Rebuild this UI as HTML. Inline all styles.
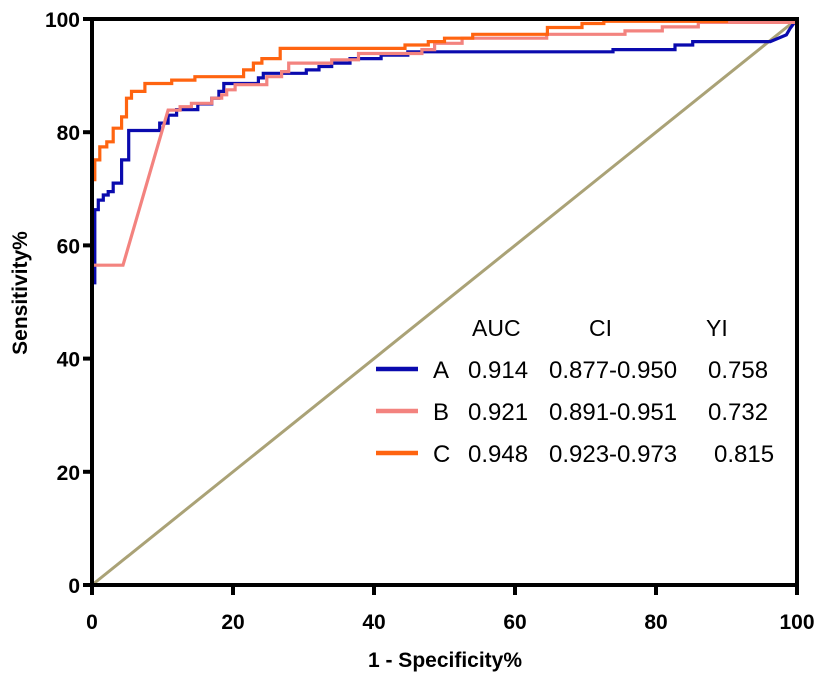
<!DOCTYPE html>
<html><head><meta charset="utf-8"><style>
html,body{margin:0;padding:0;background:#fff;}
svg{display:block;font-family:"Liberation Sans",Arial,sans-serif;}
</style></head><body>
<svg id="chart" width="827" height="677"></svg>
<script>
const xTicks=[0,20,40,60,80,100];
const yTicks=[0,20,40,60,80,100];
const seriesNames=["A","B","C"];
const aucValues=["0.914","0.921","0.948"];
const ciValues=["0.877-0.950","0.891-0.951","0.923-0.973"];
const yiValues=["0.758","0.732","0.815"];
const fprA=[0,0.4,0.4,0.9,0.9,1.6,1.6,2.3,2.3,3.0,3.0,4.2,4.2,5.2,5.2,9.6,9.6,10.8,10.8,12,12,15,15,17,17,18,18,18.7,18.7,23.6,23.6,24.3,24.3,30.4,30.4,32.2,32.2,34,34,36.6,36.6,41,41,44.8,44.8,73.9,73.9,82.7,82.7,85.2,85.2,96.2,98.5,99,100];
const tprA=[53.4,53.4,66.3,66.3,68,68,68.9,68.9,69.5,69.5,71,71,75.1,75.1,80.3,80.3,81.6,81.6,83.0,83.0,84,84,85,85,86,86,87.2,87.2,88.6,88.6,89.6,89.6,90.4,90.4,91.0,91.0,91.6,91.6,92.2,92.2,93.0,93.0,93.6,93.6,94.2,94.2,94.6,94.6,95.4,95.4,96,96,97.2,98.3,100];
const fprB=[0,0,4.4,10.8,12.5,12.5,14.1,14.1,17,17,18.4,18.4,19.1,19.1,20.3,20.3,24.8,24.8,26.9,26.9,27.9,27.9,34,34,37.8,37.8,46.8,46.8,48.6,48.6,52.5,52.5,64.5,64.5,75.6,75.6,80.9,80.9,86,86,100];
const tprB=[0,56.5,56.5,83.9,83.9,84.5,84.5,85.1,85.1,86,86,86.6,86.6,87.5,87.5,88.4,88.4,89.8,89.8,90.7,90.7,92.2,92.2,92.8,92.8,93.9,93.9,94.6,94.6,95.7,95.7,96.6,96.6,97.3,97.3,97.9,97.9,98.6,98.6,99.4,99.4,100];
const fprC=[0,0,0.4,0.4,1.1,1.1,2.1,2.1,3,3,4.2,4.2,4.9,4.9,5.6,5.6,7.5,7.5,11.3,11.3,14.6,14.6,21.5,21.5,22.9,22.9,24.1,24.1,26.7,26.7,44.4,44.4,47.7,47.7,50,50,54,54,64.6,64.6,69.5,69.5,72.6,72.6,90,90,100];
const tprC=[0,71.6,71.6,75.1,75.1,77.4,77.4,78.3,78.3,80.7,80.7,82.7,82.7,86,86,87.2,87.2,88.6,88.6,89.2,89.2,89.8,89.8,91,91,92.2,92.2,93,93,94.8,94.8,95.4,95.4,96,96,96.6,96.6,97.3,97.3,98.5,98.5,99.2,99.2,99.6,99.6,100,100];
const colors=["#0a0aae","#f3837f","#ff6410"];
const X0=92,X1=797,Y0=585,Y1=19;
function sx(v){return X0+(X1-X0)*v/100;}
function sy(v){return Y0-(Y0-Y1)*v/100;}
const NS="http://www.w3.org/2000/svg";
const svg=document.getElementById('chart');
function mk(tag,attrs,parent){const e=document.createElementNS(NS,tag);for(const k in attrs)e.setAttribute(k,attrs[k]);(parent||svg).appendChild(e);return e;}
const diag=mk('line',{x1:sx(0),y1:sy(0),x2:sx(100),y2:sy(100),stroke:'#aaa276','stroke-width':3});


const fprs=[fprA,fprB,fprC],tprs=[tprA,tprB,tprC];
[0,1,2].forEach(i=>{
  const pts=fprs[i].map((f,j)=>sx(f).toFixed(1)+','+sy(tprs[i][j]).toFixed(1)).join(' ');
  const pl=mk('polyline',{points:pts,fill:'none',stroke:colors[i],'stroke-width':3.2,'stroke-linejoin':'miter'});
  
  
});
const frame=mk('rect',{x:X0,y:Y1,width:X1-X0,height:Y0-Y1,fill:'none',stroke:'#000','stroke-width':4});


xTicks.forEach(t=>{
  const tk=mk('line',{x1:sx(t),y1:Y0,x2:sx(t),y2:Y0+10,stroke:'#000','stroke-width':4});
  
  
  const tl=mk('text',{x:sx(t),y:Y0+44,'text-anchor':'middle','font-size':21,'font-weight':'bold'});
  tl.textContent=t;
  
  
});
yTicks.forEach(t=>{
  const tk=mk('line',{x1:X0-9,y1:sy(t),x2:X0,y2:sy(t),stroke:'#000','stroke-width':4});
  
  
  const tl=mk('text',{x:X0-12,y:sy(t)+8,'text-anchor':'end','font-size':21,'font-weight':'bold'});
  tl.textContent=t;
  
  
});
const xt=mk('text',{x:445,y:667,'text-anchor':'middle','font-size':21,'font-weight':'bold'});
xt.textContent='1 - Specificity%';


const yt=mk('text',{x:0,y:0,'text-anchor':'middle','font-size':21,'font-weight':'bold',transform:'translate(27,293) rotate(-90)'});
yt.textContent='Sensitivity%';


const hdr=[["AUC",472],["CI",589],["YI",706]];
hdr.forEach(h=>{
  const t=mk('text',{x:h[1],y:336,'font-size':23});
  t.textContent=h[0];
  
  
});
const rowY=[369,411,453];
seriesNames.forEach((n,i)=>{
  const y=rowY[i];
  const ln=mk('line',{x1:376,y1:y,x2:418,y2:y,stroke:colors[i],'stroke-width':4.5});
  
  
  const cells=[[n,433],[aucValues[i],468],[ciValues[i],549],[yiValues[i],i==2?714:708]];
  cells.forEach(c=>{
    const t=mk('text',{x:c[1],y:y+9,'font-size':24});
    t.textContent=c[0];
    
    
  });
});
</script>
</body></html>
